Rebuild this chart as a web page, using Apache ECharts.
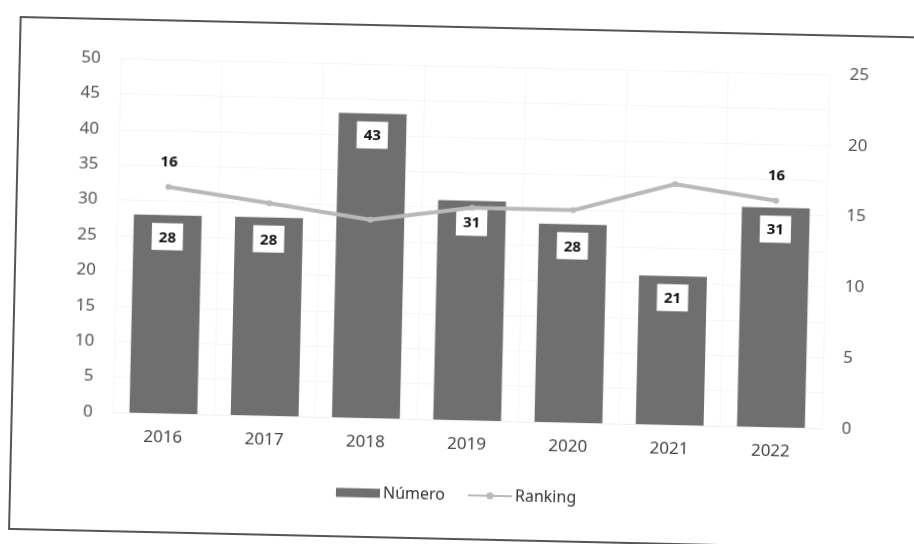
<!DOCTYPE html>
<html>
<head>
<meta charset="utf-8">
<script src="https://cdn.jsdelivr.net/npm/echarts@6/dist/echarts.min.js"></script>
<style>
html,body{margin:0;padding:0;background:#fff;overflow:hidden;width:914px;height:544px;}
#wrap{position:absolute;left:0;top:0;width:980px;height:560px;transform:rotate(1.3deg);transform-origin:457px 272px;}
#chart{width:980px;height:560px;}
</style>
</head>
<body>
<div id="wrap"><div id="chart"></div></div>
<script>
var categories = ['2016','2017','2018','2019','2020','2021','2022'];
var numero = [28, 28, 43, 31, 28, 21, 31];
var ranking = [16, 15, 14, 15, 15, 17, 16];
var leftTicks = [0, 50, 5];
var rightTicks = [0, 25, 5];

var font = 'Noto Sans';
var chart = echarts.init(document.getElementById('chart'), null, {renderer:'canvas'});
var rankData = ranking.map(function(v, i){
  var show = (i === 0 || i === ranking.length - 1);
  return {value: v, label: {show: show}};
});
chart.setOption({
  backgroundColor: '#fff',
  animation: false,
  textStyle: {fontFamily: font},
  graphic: [{
    type: 'rect', silent: true,
    shape: {x: 15, y: 27, width: 950, height: 512},
    style: {fill: 'none', stroke: '#555', lineWidth: 2}
  }],
  grid: {left: 116, width: 709, top: 66, height: 354},
  legend: {
    top: 482, left: 336,
    itemGap: 22, itemWidth: 44, itemHeight: 9,
    textStyle: {fontFamily: font, fontSize: 16, color: '#333', padding: [0, 0, 0, -2]},
    data: [{name: 'Número', icon: 'rect'}, {name: 'Ranking'}]
  },
  xAxis: {
    type: 'category', data: categories,
    axisLine: {show: true, lineStyle: {color: '#efefef'}},
    axisTick: {show: false},
    axisLabel: {color: '#444', fontSize: 17, margin: 16, fontFamily: font},
    splitLine: {show: true, lineStyle: {color: '#f6f6f6'}}
  },
  yAxis: [{
    type: 'value', min: leftTicks[0], max: leftTicks[1], interval: leftTicks[2],
    axisLine: {show: false}, axisTick: {show: false},
    axisLabel: {color: '#555', fontSize: 17, margin: 20, fontFamily: font},
    splitLine: {lineStyle: {color: '#f6f6f6'}}
  }, {
    type: 'value', min: rightTicks[0], max: rightTicks[1], interval: rightTicks[2],
    axisLine: {show: false}, axisTick: {show: false},
    axisLabel: {color: '#555', fontSize: 17, margin: 20, fontFamily: font},
    splitLine: {show: false}
  }],
  series: [{
    name: 'Número', type: 'bar', data: numero, barWidth: '67%',
    itemStyle: {color: '#6f6f6f'},
    label: {
      show: true, position: 'insideTop', distance: 8,
      backgroundColor: '#fff', padding: [7, 7, 5, 7],
      color: '#111', fontWeight: 'bold', fontSize: 15, fontFamily: font
    }
  }, {
    name: 'Ranking', type: 'line', yAxisIndex: 1, data: rankData,
    lineStyle: {color: '#b9b9b9', width: 4},
    itemStyle: {color: '#b9b9b9'},
    symbol: 'circle', symbolSize: 6,
    label: {
      show: false, position: 'top', distance: 14,
      color: '#111', fontWeight: 'bold', fontSize: 15, fontFamily: font
    }
  }]
});
</script>
</body>
</html>
